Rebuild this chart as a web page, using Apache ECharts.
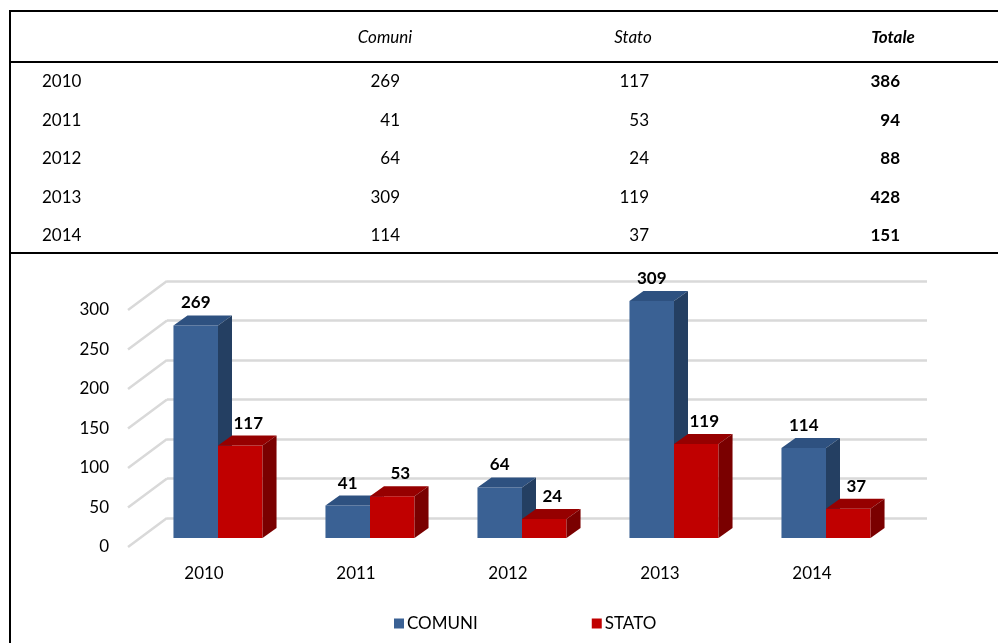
<!DOCTYPE html>
<html>
<head>
<meta charset="utf-8">
<script src="https://cdn.jsdelivr.net/npm/echarts@6/dist/echarts.min.js"></script>
<style>
  html, body { margin: 0; padding: 0; background: #fff; }
  #chartBars { width: 998px; height: 643px; }
</style>
</head>
<body>
<div id="chartBars"></div>
<script>
const years = ['2010', '2011', '2012', '2013', '2014']
const comuni = [269, 41, 64, 309, 114]
const stato = [117, 53, 24, 119, 37]
const totale = [386, 94, 88, 428, 151]
const tableHead = ['Comuni', 'Stato', 'Totale']
const yTicks = [0, 50, 100, 150, 200, 250, 300]

const FONT = 'Lato'
const yMax = 300

// 3d look: bars sit a bit behind the front plane, back wall further back
const barShift = [12, -9]
const depth = [14, -10]

const makeBar = (pos, front, top, side, labelShift) => (params, api) => {
  const i = api.value(0)
  const v = api.value(1)
  const base = api.coord([i, 0])
  // bars taller than the axis max get cut at the top of the plot, like the original
  const peak = api.coord([i, Math.min(v, yMax)])
  const bw = api.size([1, 0])[0] * 0.293
  const x = base[0] + 2 + (pos === 0 ? -bw : 0) + barShift[0]
  const yb = base[1] + barShift[1]
  const yt = peak[1] + barShift[1]
  const dx = depth[0], dy = depth[1]
  return {
    type: 'group',
    children: [
      { type: 'rect', shape: { x: x, y: yt, width: bw, height: yb - yt }, style: { fill: front } },
      { type: 'polygon', shape: { points: [[x, yt], [x + dx, yt + dy], [x + bw + dx, yt + dy], [x + bw, yt]] }, style: { fill: top } },
      { type: 'polygon', shape: { points: [[x + bw, yt], [x + bw + dx, yt + dy], [x + bw + dx, yb + dy], [x + bw, yb]] }, style: { fill: side } },
      {
        type: 'text', x: x + bw / 2 + labelShift, y: yt + dy - 4,
        style: { text: String(v), font: 'bold 17px ' + FONT, fill: '#000', align: 'center', verticalAlign: 'bottom' }
      }
    ]
  }
}

// side wall diagonals from the front plane to the back wall
const sideWall = (params, api) => {
  const v = api.value(0)
  const p = api.coord([0, v])
  const left = params.coordSys.x
  return {
    type: 'line',
    shape: { x1: left, y1: p[1], x2: left + 39, y2: p[1] - 29 },
    style: { stroke: '#d9d9d9', lineWidth: 2.5 }
  }
}

// table drawn as graphic text + rules
const rowY = (r) => 82 + r * 38.5
const tableGraphic = []
const rule = (x1, y1, x2, y2) => tableGraphic.push({
  type: 'line', shape: { x1, y1, x2, y2 }, style: { stroke: '#000', lineWidth: 2 }
})
rule(10, 11, 998, 11)
rule(10, 62, 998, 62)
rule(10, 253, 998, 253)
rule(10, 10, 10, 643)
const headX = [385, 633, 893]
tableHead.forEach((h, k) => {
  tableGraphic.push({
    type: 'text', x: headX[k], y: 38,
    style: { text: h, font: (k === 2 ? 'italic bold ' : 'italic ') + '17px ' + FONT, fill: '#000', align: 'center', verticalAlign: 'middle' }
  })
})
years.forEach((y, r) => {
  const cells = [
    { t: y, x: 42, a: 'left', b: false },
    { t: comuni[r], x: 400, a: 'right', b: false },
    { t: stato[r], x: 649, a: 'right', b: false },
    { t: totale[r], x: 900, a: 'right', b: true }
  ]
  cells.forEach(c => {
    tableGraphic.push({
      type: 'text', x: c.x, y: rowY(r),
      style: { text: String(c.t), font: (c.b ? 'bold ' : '') + '17px ' + FONT, fill: '#000', align: c.a, verticalAlign: 'middle' }
    })
  })
})

const chartDom = document.getElementById('chartBars')
const myChart = echarts.init(chartDom)
let option = {}
option = {
  animation: false,
  textStyle: { fontFamily: FONT },
  graphic: tableGraphic,
  legend: {
    data: ['COMUNI', 'STATO'],
    left: 389,
    top: 610,
    icon: 'rect',
    itemWidth: 10,
    itemHeight: 10,
    itemGap: 114,
    textStyle: { fontSize: 17, color: '#000', fontFamily: FONT, padding: [0, 0, 0, -2] }
  },
  grid: [
    { left: 128, right: 110, top: 310, bottom: 96 },
    { left: 167, right: 71, top: 281, bottom: 125 }
  ],
  xAxis: [
    {
      gridIndex: 0, type: 'category', data: years,
      axisLine: { show: false }, axisTick: { show: false },
      axisLabel: { color: '#000', fontSize: 17, margin: 18, fontFamily: FONT }
    },
    { gridIndex: 1, type: 'category', data: years, show: false }
  ],
  yAxis: [
    {
      gridIndex: 0, type: 'value', min: 0, max: yMax, interval: 50,
      axisLine: { show: false }, axisTick: { show: false }, splitLine: { show: false },
      axisLabel: { color: '#000', fontSize: 17, margin: 19, fontFamily: FONT }
    },
    {
      gridIndex: 1, type: 'value', min: 0, max: yMax, interval: 50,
      axisLine: { show: false }, axisTick: { show: false }, axisLabel: { show: false },
      splitLine: { show: true, lineStyle: { color: '#d9d9d9', width: 2.5 } }
    }
  ],
  series: [
    {
      type: 'custom', name: 'wall', xAxisIndex: 0, yAxisIndex: 0, silent: true, z: 1,
      renderItem: sideWall, data: yTicks.map(v => [v])
    },
    {
      type: 'custom', name: 'COMUNI', xAxisIndex: 0, yAxisIndex: 0, z: 3,
      itemStyle: { color: '#3a6194' },
      renderItem: makeBar(0, '#3a6194', '#2e5180', '#243f62', 0),
      data: comuni.map((v, i) => [i, v])
    },
    {
      type: 'custom', name: 'STATO', xAxisIndex: 0, yAxisIndex: 0, z: 3,
      itemStyle: { color: '#c00000' },
      renderItem: makeBar(1, '#c00000', '#960000', '#7a0000', 8),
      data: stato.map((v, i) => [i, v])
    }
  ]
}
option && myChart.setOption(option)
</script>
</body>
</html>
